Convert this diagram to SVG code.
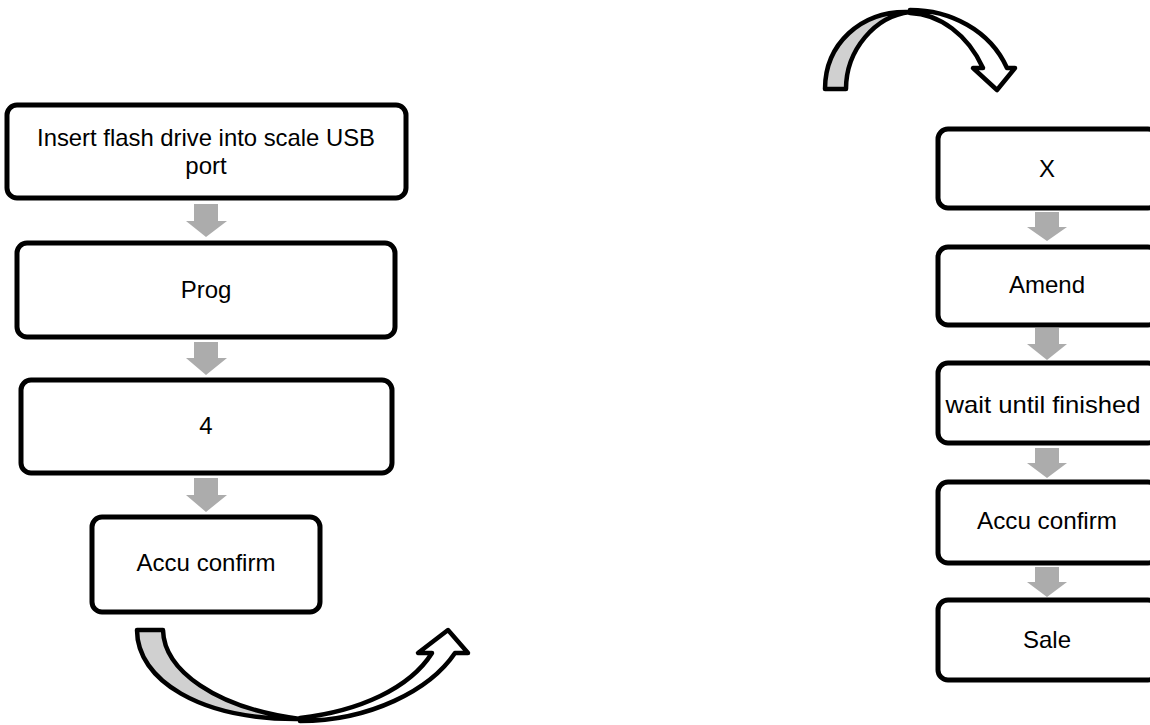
<svg xmlns="http://www.w3.org/2000/svg" width="1150" height="725" viewBox="0 0 1150 725">
<style>
.box{fill:#fff;stroke:#000;stroke-width:5}
.lbl{font-family:"Liberation Sans",Arial,sans-serif;font-size:24px;fill:#000;text-anchor:middle}
.blk{fill:#acacac}
.curve{stroke:#000;stroke-width:4.5;stroke-linejoin:round}
</style>
<rect width="1150" height="725" fill="#fff"/>
<g id="connectors">
  <path class="blk" d="M194,204 H218 V221 H227 L206,237 L186,221 H194 Z"/>
  <path class="blk" d="M194,342 H218 V358 H227 L206,375 L186,358 H194 Z"/>
  <path class="blk" d="M194,478 H218 V495 H227 L206,512 L186,495 H194 Z"/>
  <path class="blk" d="M1035,212 H1059 V227 H1067 L1047,241 L1027,227 H1035 Z"/>
  <path class="blk" d="M1035,328 H1059 V344 H1067 L1047,360 L1027,344 H1035 Z"/>
  <path class="blk" d="M1035,448 H1059 V463 H1067 L1047,478 L1027,463 H1035 Z"/>
  <path class="blk" d="M1035,567 H1059 V582 H1067 L1047,597 L1027,582 H1035 Z"/>
  <g id="curve-bottom">
    <path class="curve" fill="#fff" d="M300,721 C370,721 430,690 455,653 L468,653 L448,630 L418,653 L432,653 C410,688 360,711 300,718 Z"/>
    <path class="curve" fill="#d0d0d0" d="M137,630 L163,630 C164,670 215,708 300,719 C200,720 137,680 137,630 Z"/>
  </g>
  <g id="curve-top">
    <path class="curve" fill="#fff" d="M910,10 C950,10 990,30 1007,68 L1015,68 L997,90 L973,68 L983,68 C968,35 940,14 910,13 Z"/>
    <path class="curve" fill="#d0d0d0" d="M825,89 L846,89 C846,50 875,16 910,12 C860,10 825,45 825,89 Z"/>
  </g>
</g>
<g id="n1"><rect class="box" x="7" y="105" width="399" height="93" rx="10"/>
  <text class="lbl" x="206" y="146" textLength="338" lengthAdjust="spacingAndGlyphs">Insert flash drive into scale USB</text>
  <text class="lbl" x="206" y="174">port</text></g>
<g id="n2"><rect class="box" x="17" y="243" width="378" height="94" rx="10"/>
  <text class="lbl" x="206" y="298">Prog</text></g>
<g id="n3"><rect class="box" x="21" y="380" width="371" height="93" rx="10"/>
  <text class="lbl" x="206" y="434">4</text></g>
<g id="n4"><rect class="box" x="92" y="517" width="228" height="95" rx="10"/>
  <text class="lbl" x="206" y="571" textLength="139" lengthAdjust="spacingAndGlyphs">Accu confirm</text></g>
<g id="r1"><rect class="box" x="938" y="129" width="220" height="79" rx="10"/>
  <text class="lbl" x="1047" y="177">X</text></g>
<g id="r2"><rect class="box" x="938" y="247" width="220" height="78" rx="10"/>
  <text class="lbl" x="1047" y="293">Amend</text></g>
<g id="r3"><rect class="box" x="938" y="363" width="220" height="80" rx="10"/>
  <text class="lbl" x="1043" y="413" textLength="195" lengthAdjust="spacingAndGlyphs">wait until finished</text></g>
<g id="r4"><rect class="box" x="938" y="482" width="220" height="81" rx="10"/>
  <text class="lbl" x="1047" y="529" textLength="140" lengthAdjust="spacingAndGlyphs">Accu confirm</text></g>
<g id="r5"><rect class="box" x="938" y="600" width="220" height="80" rx="10"/>
  <text class="lbl" x="1047" y="648">Sale</text></g>
</svg>
